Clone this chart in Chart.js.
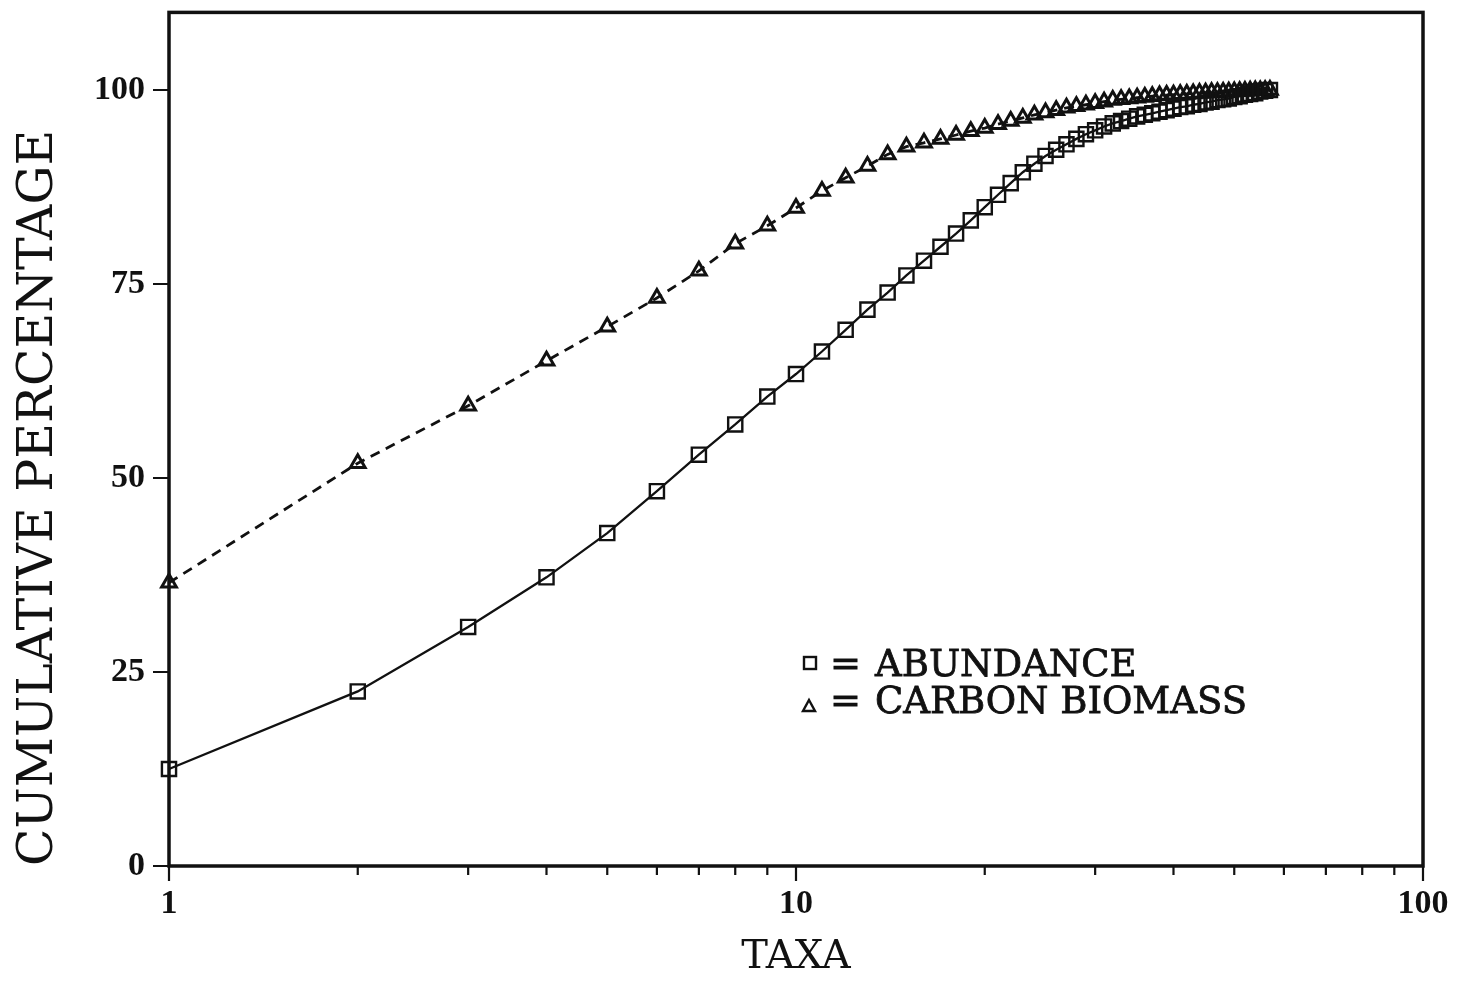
<!DOCTYPE html>
<html>
<head>
<meta charset="utf-8">
<title>Cumulative percentage by taxa</title>
<script src="https://cdn.jsdelivr.net/npm/chart.js@4.4.1/dist/chart.umd.min.js"></script>
<style>
  html, body { margin: 0; padding: 0; background: #fff; }
  #wrap { width: 1466px; height: 982px; }
</style>
</head>
<body>
<div id="wrap"><canvas id="chart" width="1466" height="982"></canvas></div>
<script>
// taxa rank (x) and the two cumulative curves (y, %)
var taxa = [1, 2, 3, 4, 5, 6, 7, 8, 9, 10, 11, 12, 13, 14, 15, 16, 17, 18, 19, 20,
            21, 22, 23, 24, 25, 26, 27, 28, 29, 30, 31, 32, 33, 34, 35, 36, 37, 38, 39, 40,
            41, 42, 43, 44, 45, 46, 47, 48, 49, 50, 51, 52, 53, 54, 55, 56, 57];

var abundance = [12.5, 22.5, 30.8, 37.2, 42.9, 48.3, 53.0, 56.9, 60.5, 63.4,
                 66.3, 69.1, 71.7, 73.9, 76.1, 78.0, 79.8, 81.5, 83.2, 84.9,
                 86.5, 88.0, 89.4, 90.5, 91.5, 92.3, 93.0, 93.7, 94.3, 94.8,
                 95.3, 95.7, 96.0, 96.3, 96.6, 96.8, 97.0, 97.2, 97.4, 97.6,
                 97.8, 97.9, 98.1, 98.2, 98.4, 98.5, 98.7, 98.8, 98.9, 99.1,
                 99.2, 99.4, 99.5, 99.6, 99.8, 99.9, 100.0];

var biomass = [36.5, 51.9, 59.3, 65.1, 69.5, 73.2, 76.7, 80.2, 82.5, 84.8,
               87.0, 88.7, 90.2, 91.7, 92.7, 93.2, 93.7, 94.2, 94.7, 95.1,
               95.6, 96.0, 96.4, 96.8, 97.1, 97.4, 97.7, 97.9, 98.1, 98.3,
               98.5, 98.7, 98.8, 98.9, 99.0, 99.1, 99.2, 99.3, 99.35, 99.4,
               99.45, 99.5, 99.55, 99.6, 99.65, 99.7, 99.72, 99.75, 99.78, 99.8,
               99.83, 99.86, 99.9, 99.93, 99.95, 99.98, 100.0];

// axis ticks
var xMajorTicks = [1, 10, 100];
var xMinorTicks = [2, 3, 4, 5, 6, 7, 8, 9, 20, 30, 40, 50, 60, 70, 80, 90];
var yTickValues = [0, 25, 50, 75, 100];

var ink = '#111111';

function toPoints(values) {
    return taxa.map(function(t, i) { return {x: t, y: values[i]}; });
}

// box round the plot and the outward tick marks
const frameAndTicks = {
    id: 'frameAndTicks',
    beforeDatasetsDraw(chart) {
        const ctx = chart.ctx;
        const area = chart.chartArea;
        const x = chart.scales.x;
        const y = chart.scales.y;
        ctx.save();
        ctx.strokeStyle = ink;
        ctx.lineWidth = 2.2;
        ctx.beginPath();
        xMajorTicks.forEach(function(v) {
            const px = x.getPixelForValue(v);
            ctx.moveTo(px, area.bottom);
            ctx.lineTo(px, area.bottom + 15);
        });
        xMinorTicks.forEach(function(v) {
            const px = x.getPixelForValue(v);
            ctx.moveTo(px, area.bottom);
            ctx.lineTo(px, area.bottom + 9);
        });
        yTickValues.forEach(function(v) {
            const py = y.getPixelForValue(v);
            ctx.moveTo(area.left - 16, py);
            ctx.lineTo(area.left, py);
        });
        ctx.stroke();
        ctx.lineWidth = 3.5;
        ctx.strokeRect(area.left, area.top, area.right - area.left, area.bottom - area.top);
        ctx.restore();
    }
};

// legend written inside the plot, lower right
const legendBox = {
    id: 'legendBox',
    afterDraw(chart) {
        const ctx = chart.ctx;
        ctx.save();
        ctx.strokeStyle = ink;
        ctx.fillStyle = ink;
        ctx.lineWidth = 2.4;
        // square
        ctx.strokeRect(804, 657, 12, 12);
        // triangle
        ctx.beginPath();
        ctx.moveTo(809, 700);
        ctx.lineTo(815, 711);
        ctx.lineTo(803, 711);
        ctx.closePath();
        ctx.stroke();
        ctx.font = '37px "DejaVu Serif"';
        ctx.textBaseline = 'alphabetic';
        ctx.textAlign = 'left';
        ctx.lineWidth = 0.8;
        [['=', 830, 676], ['ABUNDANCE', 875, 676], ['=', 830, 713], ['CARBON BIOMASS', 875, 713]]
            .forEach(function(t) {
                ctx.fillText(t[0], t[1], t[2]);
                ctx.strokeText(t[0], t[1], t[2]);
            });
        ctx.restore();
    }
};

const ctx = document.getElementById('chart');

new Chart(ctx, {
    type: 'line',
    data: {
        datasets: [{
            label: 'ABUNDANCE',
            data: toPoints(abundance),
            borderColor: ink,
            borderWidth: 2.3,
            backgroundColor: 'rgba(0,0,0,0)',
            pointStyle: 'rect',
            pointRadius: 10,
            pointBorderWidth: 2.4,
            pointBorderColor: ink,
            pointBackgroundColor: 'rgba(0,0,0,0)',
            tension: 0,
            clip: false
        }, {
            label: 'CARBON BIOMASS',
            data: toPoints(biomass),
            borderColor: ink,
            borderWidth: 2.8,
            borderDash: [10, 7],
            backgroundColor: 'rgba(0,0,0,0)',
            pointStyle: 'triangle',
            pointRadius: 8.5,
            pointBorderWidth: 3,
            pointBorderColor: ink,
            pointBackgroundColor: 'rgba(0,0,0,0)',
            tension: 0,
            clip: false
        }]
    },
    options: {
        responsive: false,
        animation: false,
        devicePixelRatio: 1,
        layout: {
            padding: {top: 12, right: 43, bottom: 0, left: 10}
        },
        plugins: {
            legend: {
                display: false
            },
            tooltip: {
                enabled: false
            }
        },
        scales: {
            x: {
                type: 'logarithmic',
                min: 1,
                max: 100,
                border: {
                    display: false
                },
                grid: {
                    display: false,
                    drawTicks: false
                },
                afterBuildTicks: function(scale) {
                    scale.ticks = xMajorTicks.map(function(v) { return {value: v, major: true}; });
                },
                afterFit: function(scale) {
                    scale.height = 116;
                    scale.paddingLeft = 0;
                    scale.paddingRight = 0;
                },
                ticks: {
                    color: ink,
                    padding: 18,
                    maxRotation: 0,
                    autoSkip: false,
                    font: {family: '"Liberation Serif"', size: 34, weight: 'bold'},
                    callback: function(value) {
                        return String(value);
                    }
                },
                title: {
                    display: true,
                    text: 'TAXA',
                    color: ink,
                    padding: {top: 0, bottom: 0},
                    font: {family: '"DejaVu Serif"', size: 40}
                }
            },
            y: {
                min: 0,
                max: 110,
                border: {
                    display: false
                },
                grid: {
                    display: false,
                    drawTicks: false
                },
                afterBuildTicks: function(scale) {
                    scale.ticks = yTickValues.map(function(v) { return {value: v}; });
                },
                afterFit: function(scale) {
                    scale.width = 159;
                    scale.paddingTop = 0;
                    scale.paddingBottom = 0;
                },
                ticks: {
                    color: ink,
                    padding: 24,
                    font: {family: '"Liberation Serif"', size: 34, weight: 'bold'}
                },
                title: {
                    display: true,
                    text: 'CUMULATIVE PERCENTAGE',
                    align: 'start',
                    color: ink,
                    padding: {top: 0, bottom: 0},
                    font: {family: '"DejaVu Serif"', size: 49}
                }
            }
        }
    },
    plugins: [frameAndTicks, legendBox]
});
</script>
</body>
</html>
